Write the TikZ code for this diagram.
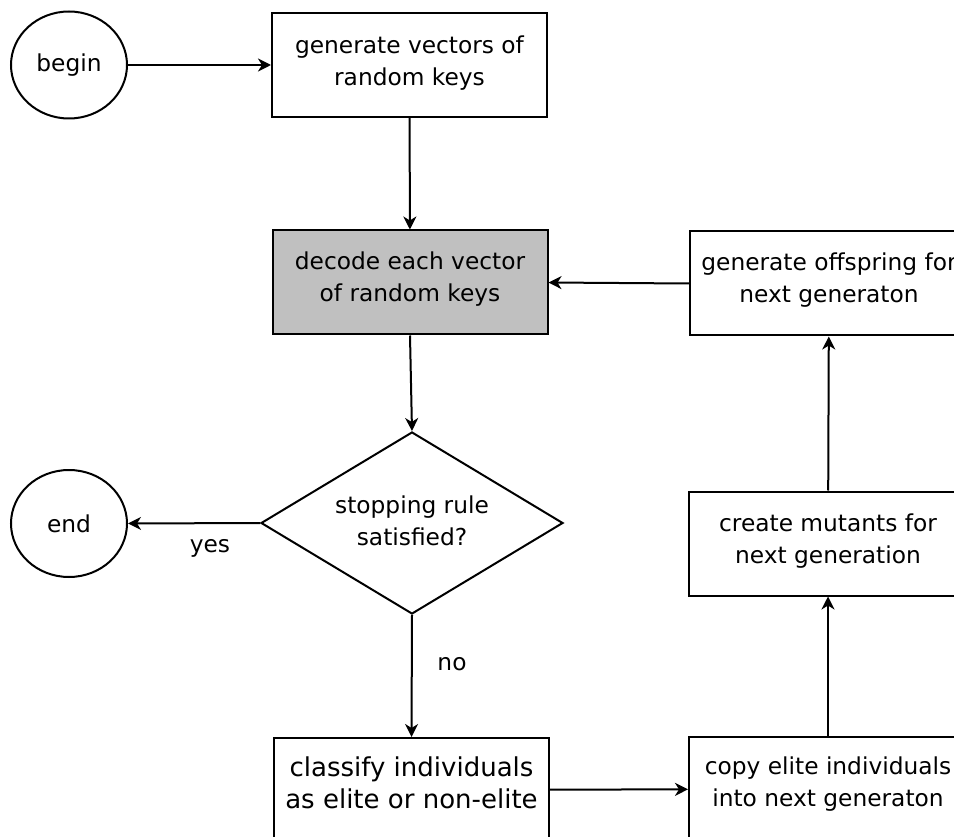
\documentclass[tikz,border=0pt]{standalone}
\usepackage{fontspec}
\setmainfont{DejaVu Sans}
\usetikzlibrary{shapes.geometric,arrows.meta}
\definecolor{decodegray}{RGB}{192,192,192}
\begin{document}
\begin{tikzpicture}[x=1pt,y=-1pt,
 every node/.style={font=\fontsize{23.3}{32}\selectfont, align=center, line width=2pt},
 box/.style={draw, rectangle, minimum width=275pt, minimum height=104pt, inner sep=0pt},
 wbox/.style={box, minimum width=278pt},
 term/.style={draw, ellipse, minimum width=116pt, minimum height=107pt, inner sep=0pt},
 decision/.style={draw, diamond, aspect=1.66, minimum width=302pt, minimum height=182pt, inner sep=0pt},
 flow/.style={line width=2pt, -{Stealth[length=13pt,width=13pt,inset=4pt]}}]
\useasboundingbox (0,0) rectangle (954,837);
\clip (0,0) rectangle (954,837);
\node[term] (begin) at (69,65) {begin};
\node[box, label={[yshift=2pt]center:generate vectors of\\random keys}] (gen) at (409.5,65) {};
\node[box, fill=decodegray, label={[yshift=3pt]center:decode each vector\\of random keys}] (decode) at (410,282.5) {};
\node[decision, label={[yshift=2pt]center:stopping rule\\satisfied?}] (stop) at (412,523) {};
\node[term] (end) at (69,523.5) {end};
\node[box, label={[yshift=7pt, font=\fontsize{26}{32}\selectfont]center:classify individuals\\as elite or non-elite}] (classify) at (411.5,790) {};
\node[wbox, label={[yshift=5pt]center:copy elite individuals\\into next generaton}] (copy) at (828,789) {};
\node[wbox, label={[yshift=2pt]center:create mutants for\\next generation}] (mutants) at (828,543.5) {};
\node[wbox, label={[yshift=3pt]center:generate offspring for\\next generaton}] (offspring) at (829,283.5) {};
\node (yes) at (210,548) {yes};
\node (no) at (452,664) {no};
\draw[flow] (begin) -- (gen);
\draw[flow] (gen) -- (decode);
\draw[flow] (decode.south) -- (stop.north);
\draw[flow] (stop.west) -- (end.east);
\draw[flow] (stop.south) -- (classify.north);
\draw[flow] (classify) -- (copy);
\draw[flow] (copy.north) -- (mutants.south);
\draw[flow] (mutants) -- (offspring);
\draw[flow] (offspring.west) -- (decode.east);
\end{tikzpicture}
\end{document}
